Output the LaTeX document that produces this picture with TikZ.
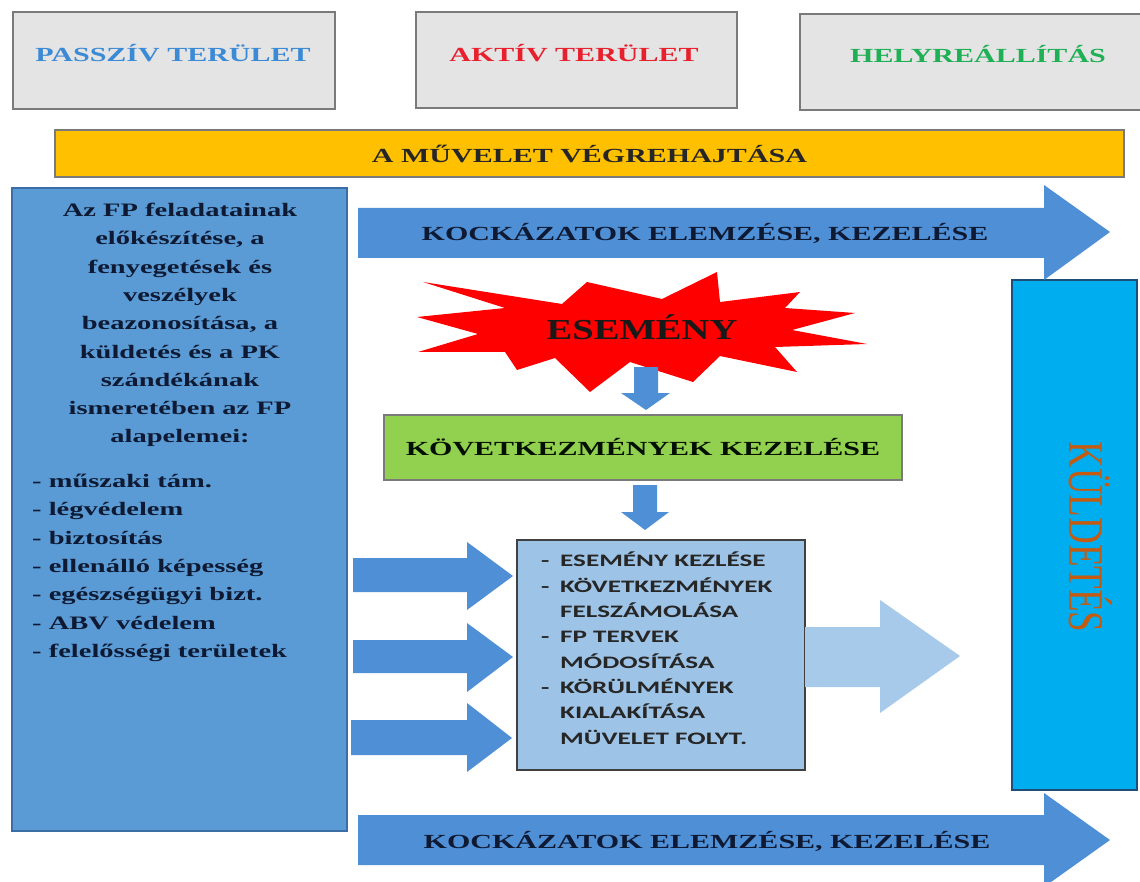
\documentclass[tikz,border=0pt]{standalone}
\usepackage{fontspec}
\setmainfont{Liberation Serif}
\newfontfamily\wideserif[FakeStretch=1.5]{Liberation Serif}
\newfontfamily\midserif[FakeStretch=1.33]{Liberation Serif}
\newfontfamily\widesans[FakeStretch=1.55]{Carlito}
\definecolor{hdrgray}{HTML}{E4E4E4}
\definecolor{hdrline}{HTML}{7A7A7A}
\definecolor{passblue}{HTML}{3B8AD6}
\definecolor{aktred}{HTML}{E8202E}
\definecolor{helygreen}{HTML}{1FAF55}
\definecolor{barorange}{HTML}{FFC000}
\definecolor{boxblue}{HTML}{5B9BD5}
\definecolor{boxline}{HTML}{3A6EA5}
\definecolor{arrblue}{HTML}{4F8FD6}
\definecolor{navy}{HTML}{0E1A33}
\definecolor{kgreen}{HTML}{92D050}
\definecolor{lightbox}{HTML}{9DC3E6}
\definecolor{lightarr}{HTML}{A7C9EA}
\definecolor{cyanbox}{HTML}{00AEEF}
\definecolor{cyanline}{HTML}{1F4E79}
\definecolor{orangetxt}{HTML}{C55A11}
\definecolor{sanstxt}{HTML}{262626}
\begin{document}
\begin{tikzpicture}[x=1pt,y=-1pt,
  hdrbox/.style={draw=hdrline, fill=hdrgray, line width=1.3pt, inner sep=0},
  hdrtxt/.style={font=\wideserif\bfseries\fontsize{20}{24}\selectfont, inner sep=0},
  blockarr/.style={fill=arrblue},
  arrtxt/.style={font=\wideserif\bfseries\fontsize{20}{24}\selectfont, text=navy, inner sep=0},
  lefttxt/.style={font=\wideserif\bfseries\fontsize{19}{28.3}\selectfont, text=navy, inner sep=0}
]
\clip (0,0) rectangle (1140,882);
\useasboundingbox (0,0) rectangle (1140,882);
\fill[white] (0,0) rectangle (1140,882);

% header boxes
\node[hdrbox, minimum width=322pt, minimum height=97pt] (h1) at (174,60.5) {};
\node[hdrbox, minimum width=321pt, minimum height=96pt] (h2) at (576.5,60) {};
\node[hdrbox, minimum width=348pt, minimum height=96pt] (h3) at (974,62) {};
\node[hdrtxt, text=passblue] (t1) at (173,53) {PASSZÍV TERÜLET};
\node[hdrtxt, text=aktred] (t2) at (574,53) {AKTÍV TERÜLET};
\node[hdrtxt, text=helygreen] (t3) at (978,54) {HELYREÁLLÍTÁS};

% orange bar
\node[draw=hdrline, fill=barorange, line width=1.2pt, minimum width=1069pt, minimum height=47pt, inner sep=0,
  font=\wideserif\bfseries\fontsize{20}{24}\selectfont, text=black!85] (bar) at (589.5,153.5) {A MŰVELET VÉGREHAJTÁSA};

% left box
\node[draw=boxline, fill=boxblue, line width=1.5pt, minimum width=335pt, minimum height=643pt, inner sep=0] (left) at (179.5,509.5) {};
\node[lefttxt, align=center, anchor=north] (lefthead) at (180,203) {Az FP feladatainak\\ előkészítése, a\\ fenyegetések és\\ veszélyek\\ beazonosítása, a\\ küldetés és a PK\\ szándékának\\ ismeretében az FP\\ alapelemei:};
\node[lefttxt, align=left, anchor=north west] (leftlist) at (32,474) {- műszaki tám.\\ - légvédelem\\ - biztosítás\\ - ellenálló képesség\\ - egészségügyi bizt.\\ - ABV védelem\\ - felelősségi területek};

% right mission box
\node[draw=cyanline, fill=cyanbox, line width=1.3pt, minimum width=125pt, minimum height=510pt, inner sep=0] (kuld) at (1074.5,535) {};
\node[rotate=-90, text=orangetxt, inner sep=0, font=\fontsize{37}{37}\selectfont] (kuldtxt) at (1091,537) {\scalebox{1}[1.35]{KÜLDETÉS}};

% top and bottom risk arrows
\fill[blockarr] (358,208) -- (1044,208) -- (1044,185) -- (1110,232) -- (1044,280) -- (1044,258) -- (358,258) -- cycle;
\node[arrtxt] (risk1) at (705,233) {KOCKÁZATOK ELEMZÉSE, KEZELÉSE};
\fill[blockarr] (358,815) -- (1044,815) -- (1044,793) -- (1110,840) -- (1044,887) -- (1044,865) -- (358,865) -- cycle;
\node[arrtxt] (risk2) at (707,841) {KOCKÁZATOK ELEMZÉSE, KEZELÉSE};

% explosion
\fill[red] (423,282) -- (505,308) -- (417,317) -- (478,334) -- (418,352) -- (505,352) -- (517,370) -- (555,358)
  -- (590,392) -- (630,362) -- (693,382) -- (720,356) -- (797,372) -- (775,347) -- (867,344) -- (792,330)
  -- (855,313) -- (785,308) -- (800,292) -- (720,302) -- (717,272) -- (662,299) -- (587,282) -- (562,304) -- cycle;
\node[font=\midserif\bfseries\fontsize{29}{30}\selectfont, text=black!90, inner sep=0] (event) at (642,327) {ESEMÉNY};

% down arrows
\fill[blockarr] (634,367) -- (658,367) -- (658,393) -- (670,393) -- (646,410) -- (621,393) -- (634,393) -- cycle;
\node[draw=hdrline, fill=kgreen, line width=1.2pt, minimum width=518pt, minimum height=65pt, inner sep=0,
  font=\wideserif\bfseries\fontsize{20}{24}\selectfont, text=black!85!green!40!black] (kov) at (643,447.5) {KÖVETKEZMÉNYEK KEZELÉSE};
\fill[blockarr] (633,485) -- (657,485) -- (657,512) -- (669,512) -- (645,530) -- (621,512) -- (633,512) -- cycle;

% light blue box
\node[draw=black!75, fill=lightbox, line width=1.5pt, minimum width=288pt, minimum height=230pt, inner sep=0] (tasks) at (661,655) {};
\node[font=\widesans\bfseries\fontsize{17.5}{25.3}\selectfont, text=sanstxt, align=left, anchor=north west, inner sep=0] (taskstxt) at (541,552)
 {\makebox[19pt][l]{-}ESEMÉNY KEZLÉSE\\ \makebox[19pt][l]{-}KÖVETKEZMÉNYEK\\ \makebox[19pt][l]{}FELSZÁMOLÁSA\\ \makebox[19pt][l]{-}FP TERVEK\\ \makebox[19pt][l]{}MÓDOSÍTÁSA\\ \makebox[19pt][l]{-}KÖRÜLMÉNYEK\\ \makebox[19pt][l]{}KIALAKÍTÁSA\\ \makebox[19pt][l]{}MÜVELET FOLYT.};

% left inflow arrows
\fill[blockarr] (353,558) -- (467,558) -- (467,542) -- (513,576) -- (467,610) -- (467,592) -- (353,592) -- cycle;
\fill[blockarr] (353,640) -- (467,640) -- (467,623) -- (513,657) -- (467,692) -- (467,673) -- (353,673) -- cycle;
\fill[blockarr] (351,720) -- (467,720) -- (467,703) -- (512,738) -- (467,772) -- (467,755) -- (351,755) -- cycle;

% big outflow arrow
\fill[lightarr] (805,627) -- (880,627) -- (880,600) -- (960,656) -- (880,713) -- (880,687) -- (805,687) -- cycle;
\end{tikzpicture}
\end{document}
